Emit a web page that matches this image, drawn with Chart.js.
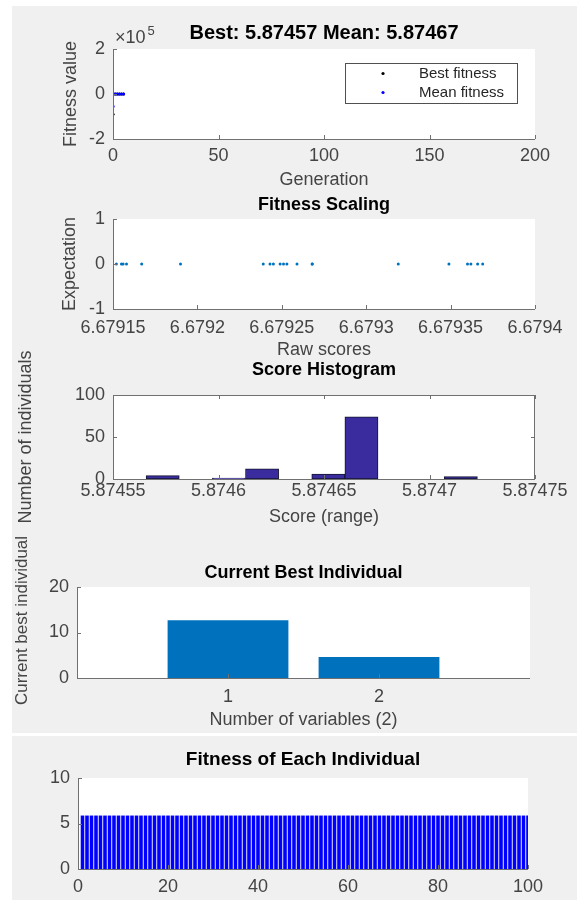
<!DOCTYPE html>
<html>
<head>
<meta charset="utf-8">
<title>GA plots</title>
<script src="https://cdn.jsdelivr.net/npm/chart.js@4.4.1/dist/chart.umd.min.js"></script>
<style>
    html, body { margin: 0; padding: 0; background: #ffffff; }
    #page { position: relative; width: 577px; height: 903px; overflow: hidden; }
    .fig { position: absolute; left: 12px; width: 565px; background: #f0f0f0; }
    canvas { position: absolute; left: 12px; }
</style>
</head>
<body>
<div id="page">
    <div class="fig" style="top:6px;height:727px"></div>
    <div class="fig" style="top:736px;height:164px"></div>
    <canvas id="chartGeneration" width="565" height="185" style="top:6px"></canvas>
    <canvas id="chartScaling" width="565" height="171" style="top:190px"></canvas>
    <canvas id="chartHistogram" width="565" height="188" style="top:340px"></canvas>
    <canvas id="chartBest" width="565" height="201" style="top:530px"></canvas>
    <canvas id="chartIndividuals" width="565" height="164" style="top:736px"></canvas>
</div>
<script>
// --- data ---
const generations = [0, 1, 2, 3, 4, 5];
const bestFitness = [-90000, 5.8746, 5.87458, 5.87457, 5.87457, 5.87457];
const meanFitness = [-55000, 5.87498, 5.87481, 5.87472, 5.87469, 5.87467];
const generationTicks = [0, 50, 100, 150, 200];
const fitnessTicks = [-200000, 0, 200000];

const rawScores = [6.679152, 6.679155, 6.679156, 6.679158, 6.679167, 6.679190, 6.679239,
    6.679243, 6.679245, 6.679249, 6.679251, 6.679253, 6.679259, 6.679268, 6.679268,
    6.679319, 6.679349, 6.679360, 6.679362, 6.679366, 6.679369];
const expectation = [0, 0, 0, 0, 0, 0, 0, 0, 0, 0, 0, 0, 0, 0, 0, 0, 0, 0, 0, 0, 0];
const rawScoreTicks = [6.67915, 6.6792, 6.67925, 6.6793, 6.67935, 6.6794];
const expectationTicks = [-1, 0, 1];

const binCenters = [5.87457355, 5.87458925, 5.87460495, 5.87462065, 5.87463635,
    5.87465205, 5.87466775, 5.87468345, 5.87469915, 5.87471485];
const binCounts = [4, 0, 1, 12, 0, 6, 74, 0, 0, 3];
const scoreTicks = [5.87455, 5.8746, 5.87465, 5.8747, 5.87475];
const countTicks = [0, 50, 100];

const variableIndex = [1, 2];
const bestIndividual = [12.7, 4.6];
const bestTicks = [0, 10, 20];

const individualFitness = [
    5.87467, 5.87467, 5.87462, 5.87467, 5.87467, 5.87457, 5.87467, 5.87465, 5.87467, 5.87467,
    5.87467, 5.87462, 5.87467, 5.87467, 5.87471, 5.87467, 5.87467, 5.87467, 5.87462, 5.87467,
    5.87465, 5.87467, 5.87467, 5.87467, 5.87462, 5.87467, 5.87467, 5.87457, 5.87467, 5.87467,
    5.87467, 5.87467, 5.87462, 5.87467, 5.87465, 5.87467, 5.87467, 5.87467, 5.87467, 5.87461,
    5.87467, 5.87462, 5.87467, 5.87467, 5.87467, 5.87467, 5.87471, 5.87467, 5.87462, 5.87467,
    5.87467, 5.87465, 5.87467, 5.87467, 5.87467, 5.87462, 5.87467, 5.87467, 5.87457, 5.87467,
    5.87467, 5.87467, 5.87462, 5.87467, 5.87467, 5.87465, 5.87467, 5.87467, 5.87467, 5.87467,
    5.87462, 5.87467, 5.87467, 5.87467, 5.87471, 5.87467, 5.87467, 5.87462, 5.87467, 5.87467,
    5.87465, 5.87467, 5.87467, 5.87467, 5.87457, 5.87467, 5.87462, 5.87467, 5.87467, 5.87467,
    5.87467, 5.87462, 5.87467, 5.87465, 5.87467, 5.87467, 5.87467, 5.87462, 5.87467, 5.87467
];
const individualTicks = [0, 20, 40, 60, 80, 100];
const individualFitnessTicks = [0, 5, 10];

const FONT = '"Liberation Sans", Arial, sans-serif';
const TEXT_GREY = "#444444";
const AXIS_GREY = "#707070";
const TICK_SIZE = 18;
const LABEL_SIZE = 18;

// draws the matlab look: white axes, inward ticks, title, legend box, exponent
const matlabAxes = {
    id: "matlabAxes",
    beforeDraw(chart) {
        const { ctx, chartArea: a } = chart;
        ctx.save();
        ctx.fillStyle = "#ffffff";
        ctx.fillRect(a.left, a.top, a.right - a.left, a.bottom - a.top);
        ctx.restore();
    },
    afterDraw(chart, args, opts) {
        const { ctx, chartArea: a, scales } = chart;
        ctx.save();
        ctx.strokeStyle = AXIS_GREY;
        ctx.lineWidth = 1;
        ctx.beginPath();
        ctx.moveTo(a.left + 0.5, a.top);
        ctx.lineTo(a.left + 0.5, a.bottom + 0.5);
        ctx.lineTo(a.right, a.bottom + 0.5);
        if (opts.box) {
            ctx.moveTo(a.left, a.top + 0.5);
            ctx.lineTo(a.right - 0.5, a.top + 0.5);
            ctx.lineTo(a.right - 0.5, a.bottom);
        }
        ctx.stroke();

        const len = 4;
        ctx.beginPath();
        scales.x.ticks.forEach((t) => {
            const px = Math.round(scales.x.getPixelForValue(t.value)) + 0.5;
            ctx.moveTo(px, a.bottom);
            ctx.lineTo(px, a.bottom - len);
            if (opts.box) {
                ctx.moveTo(px, a.top);
                ctx.lineTo(px, a.top + len);
            }
        });
        scales.y.ticks.forEach((t) => {
            const py = Math.round(scales.y.getPixelForValue(t.value)) + 0.5;
            ctx.moveTo(a.left, py);
            ctx.lineTo(a.left + len, py);
            if (opts.box) {
                ctx.moveTo(a.right, py);
                ctx.lineTo(a.right - len, py);
            }
        });
        ctx.stroke();

        if (opts.title) {
            ctx.fillStyle = "#000000";
            ctx.font = `bold ${opts.titleSize}px ${FONT}`;
            ctx.textAlign = "center";
            ctx.textBaseline = "middle";
            ctx.fillText(opts.title, (a.left + a.right) / 2, a.top - opts.titleGap);
        }

        if (opts.yLabel) {
            // this label sits a little above the axes centre in the picture
            ctx.fillStyle = TEXT_GREY;
            ctx.font = `${opts.yLabel.size}px ${FONT}`;
            ctx.textAlign = "center";
            ctx.textBaseline = "middle";
            ctx.translate(opts.yLabel.x, (a.top + a.bottom) / 2 + opts.yLabel.shift);
            ctx.rotate(-Math.PI / 2);
            ctx.fillText(opts.yLabel.text, 0, 0);
            ctx.setTransform(1, 0, 0, 1, 0, 0);
        }

        if (opts.exponent) {
            ctx.fillStyle = TEXT_GREY;
            ctx.textAlign = "left";
            ctx.textBaseline = "alphabetic";
            ctx.font = `${TICK_SIZE}px ${FONT}`;
            ctx.fillText("\u00d710", a.left + 2, a.top - 6);
            const w = ctx.measureText("\u00d710").width;
            ctx.font = `13px ${FONT}`;
            ctx.fillText(opts.exponent, a.left + 4 + w, a.top - 14);
        }

        const lg = opts.legend;
        if (lg) {
            const bx = Math.round(a.right - lg.right - lg.width);
            const by = Math.round(a.top + lg.top);
            ctx.fillStyle = "#ffffff";
            ctx.fillRect(bx, by, lg.width, lg.height);
            ctx.strokeStyle = "#505050";
            ctx.strokeRect(bx + 0.5, by + 0.5, lg.width, lg.height);
            chart.data.datasets.forEach((ds, i) => {
                const cy = by + lg.rowTop + i * lg.rowGap;
                ctx.fillStyle = ds.backgroundColor;
                ctx.beginPath();
                ctx.arc(bx + lg.markX, cy, 1.6, 0, Math.PI * 2);
                ctx.fill();
                ctx.fillStyle = "#262626";
                ctx.font = `${lg.size}px ${FONT}`;
                ctx.textAlign = "left";
                ctx.textBaseline = "middle";
                ctx.fillText(ds.label, bx + lg.textX, cy);
            });
        }
        ctx.restore();
    },
};

const trimNumber = (v) => String(parseFloat(v.toFixed(6)));
const fixTicks = (values) => (s) => { s.ticks = values.map((v) => ({ value: v })); };

// page geometry -> scale options
function buildScales(frame, x, y) {
    const tickFont = { family: FONT, size: TICK_SIZE };
    const labelFont = { family: FONT, size: LABEL_SIZE };
    return {
        x: {
            type: "linear",
            min: x.min,
            max: x.max,
            offset: false,
            grid: { display: false, drawTicks: false },
            border: { display: false },
            afterBuildTicks: fixTicks(x.values),
            ticks: {
                padding: x.pad,
                color: TEXT_GREY,
                font: tickFont,
                maxRotation: 0,
                autoSkip: false,
                callback: x.format || ((v) => trimNumber(v)),
            },
            title: {
                display: !!x.title,
                text: x.title || "",
                color: TEXT_GREY,
                font: labelFont,
                padding: 0,
            },
            afterFit: (s) => {
                s.height = frame.canvasTop + frame.canvasHeight - frame.bottom;
                s.paddingLeft = 0;
                s.paddingRight = 0;
            },
        },
        y: {
            type: "linear",
            min: y.min,
            max: y.max,
            grid: { display: false, drawTicks: false },
            border: { display: false },
            afterBuildTicks: fixTicks(y.values),
            ticks: {
                padding: 8,
                color: TEXT_GREY,
                font: tickFont,
                autoSkip: false,
                callback: y.format || ((v) => trimNumber(v)),
            },
            title: {
                display: !!y.title,
                text: y.title || "",
                color: TEXT_GREY,
                font: labelFont,
                padding: { top: y.titleInset || 0 },
            },
            afterFit: (s) => {
                s.width = frame.left - 12;
                s.paddingTop = 0;
                s.paddingBottom = 0;
            },
        },
    };
}

function baseOptions(frame, scales, axesOpts) {
    return {
        responsive: false,
        animation: false,
        devicePixelRatio: 1,
        layout: {
            padding: { top: frame.top - frame.canvasTop, right: 577 - frame.right, bottom: 0, left: 0 },
        },
        scales: scales,
        plugins: {
            legend: { display: false },
            tooltip: { enabled: false },
            matlabAxes: axesOpts,
        },
    };
}

// 1. best / mean fitness per generation
const frameGen = { canvasTop: 6, canvasHeight: 185, left: 113, right: 535, top: 49, bottom: 139 };
new Chart(document.getElementById("chartGeneration"), {
    type: "scatter",
    data: {
        datasets: [
            {
                label: "Best fitness",
                data: generations.map((g, i) => ({ x: g, y: bestFitness[i] })),
                backgroundColor: "#000000",
                borderColor: "#000000",
                pointRadius: 1.6,
                borderWidth: 0,
                order: 1,
            },
            {
                label: "Mean fitness",
                data: generations.map((g, i) => ({ x: g, y: meanFitness[i] })),
                backgroundColor: "#0000ff",
                borderColor: "#0000ff",
                pointRadius: 1.6,
                borderWidth: 0,
                order: 0,
            },
        ],
    },
    options: baseOptions(
        frameGen,
        buildScales(
            frameGen,
            { min: 0, max: 200, values: generationTicks, pad: 6, title: "Generation", format: (v) => String(v) },
            { min: -200000, max: 200000, values: fitnessTicks, title: "Fitness value", titleInset: 48, format: (v) => String(v / 100000) }
        ),
        {
            title: "Best: 5.87457 Mean: 5.87467",
            titleSize: 20,
            titleGap: 16,
            exponent: "5",
            legend: { right: 18, top: 14, width: 172, height: 40, rowTop: 10.5, rowGap: 19, markX: 38, textX: 74, size: 15 },
        }
    ),
    plugins: [matlabAxes],
});

// 2. fitness scaling
const frameScale = { canvasTop: 190, canvasHeight: 171, left: 113, right: 535, top: 219, bottom: 309 };
new Chart(document.getElementById("chartScaling"), {
    type: "scatter",
    data: {
        datasets: [
            {
                label: "Expectation",
                data: rawScores.map((r, i) => ({ x: r, y: expectation[i] })),
                backgroundColor: "#0072bd",
                borderColor: "#0072bd",
                pointRadius: 1.5,
                borderWidth: 0,
            },
        ],
    },
    options: baseOptions(
        frameScale,
        buildScales(
            frameScale,
            { min: 6.67915, max: 6.6794, values: rawScoreTicks, pad: 8, title: "Raw scores" },
            { min: -1, max: 1, values: expectationTicks, title: "Expectation", titleInset: 47 }
        ),
        { title: "Fitness Scaling", titleSize: 18, titleGap: 14 }
    ),
    plugins: [matlabAxes],
});

// 3. score histogram
const frameHist = { canvasTop: 340, canvasHeight: 188, left: 113, right: 535, top: 395, bottom: 479 };
new Chart(document.getElementById("chartHistogram"), {
    type: "bar",
    data: {
        datasets: [
            {
                label: "Number of individuals",
                data: binCenters.map((c, i) => ({ x: c, y: binCounts[i] })),
                backgroundColor: "#3a2c9f",
                borderColor: "#141432",
                borderWidth: 1,
                borderSkipped: false,
                barPercentage: 1,
                categoryPercentage: 1,
            },
        ],
    },
    options: baseOptions(
        frameHist,
        buildScales(
            frameHist,
            { min: 5.87455, max: 5.87475, values: scoreTicks, pad: 1, title: "Score (range)" },
            { min: 0, max: 100, values: countTicks, title: "Number of individuals", titleInset: 3 }
        ),
        { title: "Score Histogram", titleSize: 18, titleGap: 25, box: true }
    ),
    plugins: [matlabAxes],
});

// 4. current best individual
const frameBest = { canvasTop: 530, canvasHeight: 201, left: 77, right: 530, top: 587, bottom: 678 };
new Chart(document.getElementById("chartBest"), {
    type: "bar",
    data: {
        datasets: [
            {
                label: "Current best individual",
                data: variableIndex.map((v, i) => ({ x: v, y: bestIndividual[i] })),
                backgroundColor: "#0072bd",
                borderWidth: 0,
                barPercentage: 1,
                categoryPercentage: 0.8,
            },
        ],
    },
    options: baseOptions(
        frameBest,
        buildScales(
            frameBest,
            { min: 0, max: 3, values: variableIndex, pad: 8, title: "Number of variables (2)", format: (v) => String(v) },
            { min: 0, max: 20, values: bestTicks }
        ),
        {
            title: "Current Best Individual",
            titleSize: 18,
            titleGap: 14,
            yLabel: { text: "Current best individual", x: 10, shift: -12, size: 17 },
        }
    ),
    plugins: [matlabAxes],
});

// 5. fitness of each individual
const frameInd = { canvasTop: 736, canvasHeight: 164, left: 78, right: 528, top: 778, bottom: 869 };
new Chart(document.getElementById("chartIndividuals"), {
    type: "bar",
    data: {
        datasets: [
            {
                label: "Fitness",
                data: individualFitness.map((f, i) => ({ x: i + 1, y: f })),
                backgroundColor: "#0000ff",
                borderWidth: 0,
                barPercentage: 1,
                categoryPercentage: 0.8,
            },
        ],
    },
    options: baseOptions(
        frameInd,
        buildScales(
            frameInd,
            { min: 0, max: 100, values: individualTicks, pad: 7, format: (v) => String(v) },
            { min: 0, max: 10, values: individualFitnessTicks }
        ),
        { title: "Fitness of Each Individual", titleSize: 19, titleGap: 18 }
    ),
    plugins: [matlabAxes],
});
</script>
</body>
</html>
